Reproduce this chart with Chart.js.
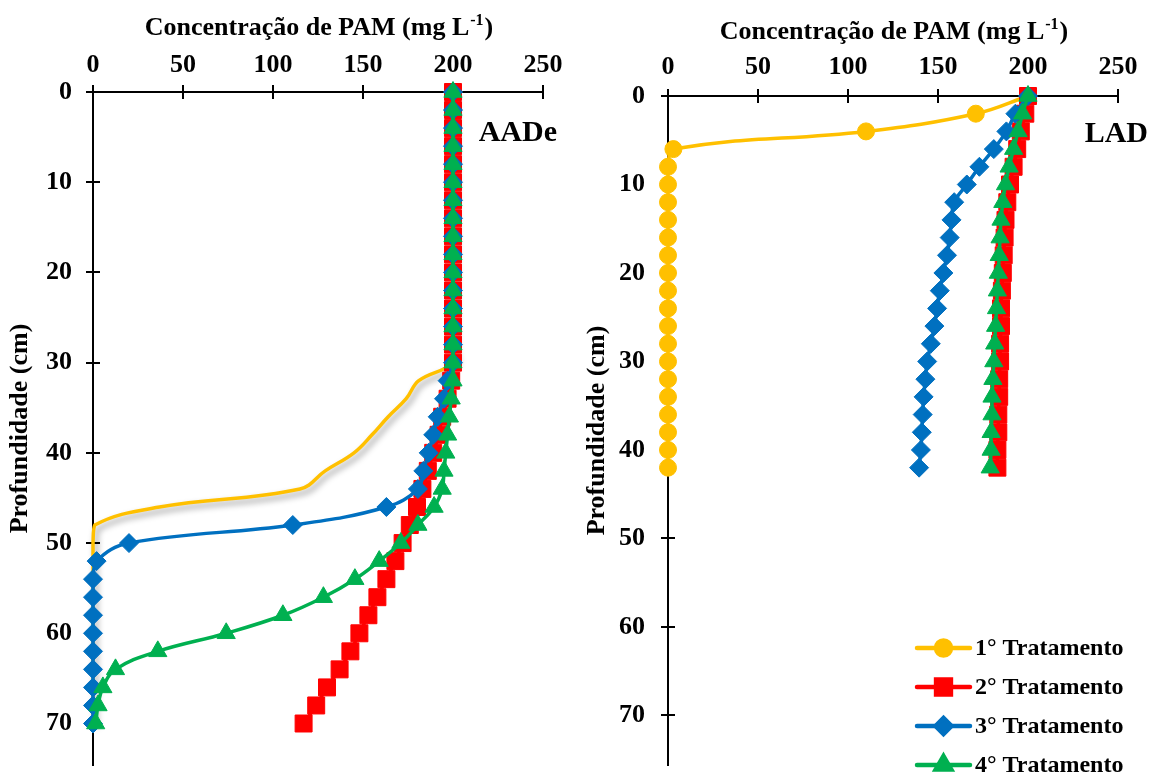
<!DOCTYPE html>
<html><head><meta charset="utf-8">
<script src="https://cdn.jsdelivr.net/npm/chart.js@4.4.1/dist/chart.umd.min.js"></script>
<style>
html,body{margin:0;padding:0;background:#fff;overflow:hidden}
#wrap{position:relative;width:1158px;height:778px}
.c{position:absolute;top:0}
</style></head><body>
<div id="wrap">
<div class="c" style="left:0"><canvas id="left" width="580" height="778"></canvas></div>
<div class="c" style="left:580px"><canvas id="right" width="578" height="778"></canvas></div>
</div>
<script>
// ---------- data ----------
const xTickValues = [0, 50, 100, 150, 200, 250];
const yTickValues = [0, 10, 20, 30, 40, 50, 60, 70];
const seriesNames = ['1° Tratamento', '2° Tratamento', '3° Tratamento', '4° Tratamento'];
const xTitleMain = 'Concentração de PAM (mg L';
const xTitleSup = '-1';
const xTitleEnd = ')';
const yTitle = 'Profundidade (cm)';
const panelLeftName = 'AADe';
const panelRightName = 'LAD';

const depthAADe = [0,2,4,6,8,10,12,14,16,18,20,22,24,26,28,30,32,34,36,38,40,42,44,46,48,50,52,54,56,58,60,62,64,66,68,70];
const aadeT1 = [200,200,200,200,200,200,200,200,200,200,200,200,200,200,200,200,181,174,164,155,145,129,115,37,1,0,0,0,0,0,0,0,0,0,0,0];
const aadeT2 = [200,200,200,200,200,200,200,200,200,200,200,200,200,200,200,200,199,197,194,192,189,186,183,180,176,172,168,163,158,153,148,143,137,130,124,117];
const aadeT3 = [200,200,200,200,200,200,200,200,200,200,200,200,200,200,200,200,197,195,191.5,189,186.5,183.5,180.5,163,111,20,2,0,0,0,0,0,0,0,0,0];
const aadeT4 = [200,200,200,200,200,200,200,200,200,200,200,200,200,200,200,200,200,199,198,197,196,195,194,189.5,180.5,171,159,145.5,128,105.5,74,36,12.5,5.5,2.8,1.5];

const depthLAD = [0,2,4,6,8,10,12,14,16,18,20,22,24,26,28,30,32,34,36,38,40,42];
const ladT1 = [200,171,110,3,0,0,0,0,0,0,0,0,0,0,0,0,0,0,0,0,0,0];
const ladT2 = [200,198.5,196,194,192,190,188.5,187.5,187,186.5,186,185.5,185,185,184.5,184.5,184,184,183.5,183.5,183,183];
const ladT3 = [200,193,188,181,173,166,159,157.5,156.5,155,153,151,149.5,148,146,144,143,142,141.5,141,140.5,139.5];
const ladT4 = [200,197,194.5,192,189.5,187.5,186,185,184.5,184,183.5,183,182.5,182,181.5,181,180.5,180,180,179.5,179.5,179];

// ---------- styles ----------
const FONT = "'Liberation Serif', 'Times New Roman', serif";
const COLORS = ['#FFC000', '#FF0000', '#0070C0', '#00B050'];
const STYLES = ['circle', 'rect', 'rectRot', 'triangle'];
const RADII = [8.5, 12, 9.5, 10.5];

function pts(xs, ys) { return xs.map((v, i) => ({ x: v, y: ys[i] })); }

function makeDatasets(depth, series, hideFirstMarkers) {
  return series.map((vals, i) => ({
    label: seriesNames[i],
    data: pts(vals, depth),
    showLine: true,
    borderColor: COLORS[i],
    backgroundColor: COLORS[i],
    pointBackgroundColor: COLORS[i],
    pointBorderColor: COLORS[i],
    pointBorderWidth: 1,
    borderWidth: 3.5,
    pointStyle: STYLES[i],
    pointRadius: (hideFirstMarkers && i === 0) ? 0 : RADII[i],
    tension: 0.4,
    clip: false,
    order: 4 - i
  }));
}

function makeScales(yMax, yWidth, xHeight, yTickPad, xTickPad, yTitlePad) {
  return {
    x: {
      type: 'linear', position: 'top', min: 0, max: 250,
      afterBuildTicks: s => { s.ticks = xTickValues.map(v => ({ value: v })); },
      afterFit: s => { s.height = xHeight; s.paddingLeft = 0; s.paddingRight = 0; s.paddingTop = 0; s.paddingBottom = 0; },
      grid: { display: false, drawTicks: false, tickLength: 0 },
      border: { display: true, color: '#000', width: 2 },
      ticks: { color: '#000', padding: xTickPad, maxRotation: 0, font: { family: FONT, size: 26, weight: 'bold' } }
    },
    y: {
      type: 'linear', position: 'left', reverse: true, min: 0, max: yMax,
      afterBuildTicks: s => { s.ticks = yTickValues.map(v => ({ value: v })); },
      afterFit: s => { s.width = yWidth; s.paddingLeft = 0; s.paddingRight = 0; s.paddingTop = 0; s.paddingBottom = 0; },
      grid: { display: false, drawTicks: false, tickLength: 0 },
      border: { display: true, color: '#000', width: 2 },
      ticks: { color: '#000', padding: yTickPad, font: { family: FONT, size: 26, weight: 'bold' } },
      title: { display: true, text: yTitle, color: '#000', padding: { top: yTitlePad, bottom: 0 }, font: { family: FONT, size: 26, weight: 'bold' } }
    }
  };
}

function panelPlugin(opts) {
  return {
    id: 'panel' + opts.name,
    beforeDatasetsDraw(chart) {
      const { ctx, chartArea: a, scales: { x, y } } = chart;
      ctx.save();
      ctx.strokeStyle = '#000'; ctx.lineWidth = 2;
      ctx.beginPath();
      xTickValues.forEach(v => { const px = Math.round(x.getPixelForValue(v)); ctx.moveTo(px, a.top - 7); ctx.lineTo(px, a.top + 7); });
      yTickValues.forEach(v => { const py = Math.round(y.getPixelForValue(v)); ctx.moveTo(a.left - 7, py); ctx.lineTo(a.left + 7, py); });
      ctx.stroke();
      ctx.restore();
    },
    beforeDatasetDraw(chart, args) {
      if (opts.shadow && args.index === 0) {
        const ctx = chart.ctx;
        ctx.save();
        ctx.shadowColor = 'rgba(0,0,0,0.38)';
        ctx.shadowBlur = 6;
        ctx.shadowOffsetX = 3;
        ctx.shadowOffsetY = 4;
      }
    },
    afterDatasetDraw(chart, args) {
      if (opts.shadow && args.index === 0) chart.ctx.restore();
    },
    afterDraw(chart) {
      const { ctx, chartArea: a } = chart;
      ctx.save();
      ctx.fillStyle = '#000';
      ctx.textBaseline = 'alphabetic';
      // x axis title with superscript
      const cx = (a.left + a.right) / 2;
      ctx.font = `bold 26px ${FONT}`;
      const w1 = ctx.measureText(xTitleMain).width;
      const w3 = ctx.measureText(xTitleEnd).width;
      ctx.font = `bold 16px ${FONT}`;
      const w2 = ctx.measureText(xTitleSup).width;
      let sx = cx - (w1 + w2 + w3) / 2;
      ctx.font = `bold 26px ${FONT}`;
      ctx.textAlign = 'left';
      ctx.fillText(xTitleMain, sx, opts.titleBase);
      ctx.font = `bold 16px ${FONT}`;
      ctx.fillText(xTitleSup, sx + w1 + 1, opts.titleBase - 10);
      ctx.font = `bold 26px ${FONT}`;
      ctx.fillText(xTitleEnd, sx + w1 + w2 + 2, opts.titleBase);
      // panel name
      ctx.font = `bold 30px ${FONT}`;
      ctx.textAlign = 'right';
      ctx.fillText(opts.name, opts.nameX, opts.nameBase);
      // legend
      if (opts.legend) {
        const L = opts.legend;
        seriesNames.forEach((nm, i) => {
          const yy = L.y0 + i * L.dy;
          ctx.strokeStyle = COLORS[i]; ctx.lineWidth = 4.5; ctx.lineCap = 'round';
          ctx.beginPath(); ctx.moveTo(L.x0, yy); ctx.lineTo(L.x1, yy); ctx.stroke();
          ctx.fillStyle = COLORS[i];
          Chart.helpers.drawPoint(ctx, { pointStyle: STYLES[i], radius: [7.5, 10.5, 8, 9][i], borderWidth: 1, rotation: 0 }, (L.x0 + L.x1) / 2, yy);
          ctx.fillStyle = '#000';
          ctx.font = `bold 24px ${FONT}`;
          ctx.textAlign = 'left';
          ctx.textBaseline = 'middle';
          ctx.fillText(nm, L.tx, yy + 1);
          ctx.textBaseline = 'alphabetic';
        });
      }
      ctx.restore();
    }
  };
}

function build(id, datasets, scales, padding, plugin) {
  return new Chart(document.getElementById(id), {
    type: 'scatter',
    data: { datasets },
    options: {
      responsive: false, animation: false, events: [],
      layout: { padding },
      plugins: { legend: { display: false }, tooltip: { enabled: false } },
      scales
    },
    plugins: [plugin]
  });
}

build('left',
  makeDatasets(depthAADe, [aadeT1, aadeT2, aadeT3, aadeT4], true),
  makeScales(74.6, 93, 40, 21, 11, 5),
  { top: 52, left: 0, right: 37, bottom: 1 },
  panelPlugin({ name: panelLeftName, shadow: true, titleBase: 35, nameX: 557, nameBase: 141 })
);

build('right',
  makeDatasets(depthLAD, [ladT1, ladT2, ladT3, ladT4], false),
  makeScales(75.6, 88, 40, 23, 13, 2),
  { top: 56, left: 0, right: 40, bottom: 1 },
  panelPlugin({ name: panelRightName, shadow: false, titleBase: 39, nameX: 568, nameBase: 142,
    legend: { x0: 337, x1: 390, tx: 395, y0: 648, dy: 39 } })
);
</script>
</body></html>
